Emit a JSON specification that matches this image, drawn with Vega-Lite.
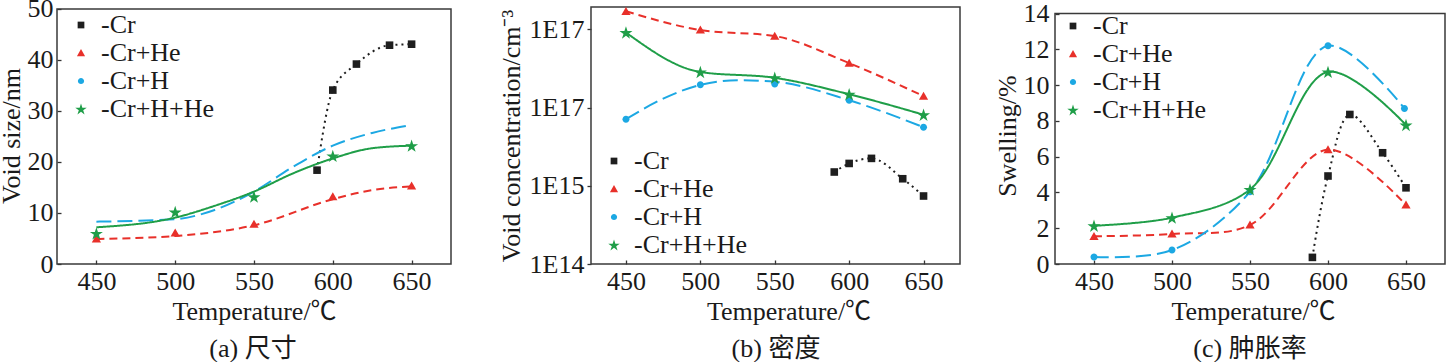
{
  "$schema": "https://vega.github.io/schema/vega-lite/v6.json",
  "background": "white",
  "padding": {"left": -2, "top": -5, "right": 0, "bottom": 0},
  "datasets": {
    "a_pts": [
      {"s": "-Cr", "t": 590, "v": 18.4}, {"s": "-Cr", "t": 600, "v": 34.1}, {"s": "-Cr", "t": 615, "v": 39.2}, {"s": "-Cr", "t": 636, "v": 42.9}, {"s": "-Cr", "t": 650, "v": 43.1},
      {"s": "-Cr+He", "t": 450, "v": 4.9}, {"s": "-Cr+He", "t": 500, "v": 6.1}, {"s": "-Cr+He", "t": 550, "v": 7.8}, {"s": "-Cr+He", "t": 600, "v": 13.2}, {"s": "-Cr+He", "t": 650, "v": 15.3},
      {"s": "-Cr+H+He", "t": 450, "v": 6.0}, {"s": "-Cr+H+He", "t": 500, "v": 10.2}, {"s": "-Cr+H+He", "t": 550, "v": 13.2}, {"s": "-Cr+H+He", "t": 600, "v": 21.2}, {"s": "-Cr+H+He", "t": 650, "v": 23.2}
    ],
    "a_crv": [
      {"s": "-Cr", "t": 590, "v": 18.4}, {"s": "-Cr", "t": 600, "v": 34.1}, {"s": "-Cr", "t": 615, "v": 39.2}, {"s": "-Cr", "t": 636, "v": 42.9}, {"s": "-Cr", "t": 650, "v": 43.1},
      {"s": "-Cr+He", "t": 450, "v": 4.9}, {"s": "-Cr+He", "t": 500, "v": 5.5}, {"s": "-Cr+He", "t": 550, "v": 7.6}, {"s": "-Cr+He", "t": 600, "v": 12.7}, {"s": "-Cr+He", "t": 625, "v": 14.5}, {"s": "-Cr+He", "t": 650, "v": 15.2},
      {"s": "-Cr+H", "t": 450, "v": 8.3}, {"s": "-Cr+H", "t": 500, "v": 8.8}, {"s": "-Cr+H", "t": 525, "v": 10.6}, {"s": "-Cr+H", "t": 550, "v": 14.2}, {"s": "-Cr+H", "t": 575, "v": 19.1}, {"s": "-Cr+H", "t": 600, "v": 23.2}, {"s": "-Cr+H", "t": 625, "v": 25.7}, {"s": "-Cr+H", "t": 647, "v": 27.1},
      {"s": "-Cr+H+He", "t": 450, "v": 7.2}, {"s": "-Cr+H+He", "t": 500, "v": 9.1}, {"s": "-Cr+H+He", "t": 525, "v": 11.4}, {"s": "-Cr+H+He", "t": 550, "v": 14.2}, {"s": "-Cr+H+He", "t": 575, "v": 17.8}, {"s": "-Cr+H+He", "t": 600, "v": 20.7}, {"s": "-Cr+H+He", "t": 625, "v": 22.7}, {"s": "-Cr+H+He", "t": 650, "v": 23.2}
    ],
    "b_pts": [
      {"s": "-Cr", "t": 590, "v": 1.5e15}, {"s": "-Cr", "t": 600, "v": 1.93e15}, {"s": "-Cr", "t": 615, "v": 2.24e15}, {"s": "-Cr", "t": 636, "v": 1.23e15}, {"s": "-Cr", "t": 650, "v": 7.4e14},
      {"s": "-Cr+He", "t": 450, "v": 1.7e17}, {"s": "-Cr+He", "t": 500, "v": 9.8e16}, {"s": "-Cr+He", "t": 550, "v": 8.2e16}, {"s": "-Cr+He", "t": 600, "v": 3.7e16}, {"s": "-Cr+He", "t": 650, "v": 1.4e16},
      {"s": "-Cr+H", "t": 450, "v": 7.1e15}, {"s": "-Cr+H", "t": 500, "v": 1.95e16}, {"s": "-Cr+H", "t": 550, "v": 2.0e16}, {"s": "-Cr+H", "t": 600, "v": 1.24e16}, {"s": "-Cr+H", "t": 650, "v": 5.6e15},
      {"s": "-Cr+H+He", "t": 450, "v": 9.1e16}, {"s": "-Cr+H+He", "t": 500, "v": 2.85e16}, {"s": "-Cr+H+He", "t": 550, "v": 2.4e16}, {"s": "-Cr+H+He", "t": 600, "v": 1.48e16}, {"s": "-Cr+H+He", "t": 650, "v": 8.1e15}
    ],
    "b_crv": [
      {"s": "-Cr", "t": 590, "v": 1.5e15}, {"s": "-Cr", "t": 600, "v": 1.93e15}, {"s": "-Cr", "t": 615, "v": 2.24e15}, {"s": "-Cr", "t": 636, "v": 1.23e15}, {"s": "-Cr", "t": 650, "v": 7.4e14},
      {"s": "-Cr+He", "t": 450, "v": 1.7e17}, {"s": "-Cr+He", "t": 500, "v": 9.8e16}, {"s": "-Cr+He", "t": 550, "v": 8.2e16}, {"s": "-Cr+He", "t": 600, "v": 3.7e16}, {"s": "-Cr+He", "t": 650, "v": 1.4e16},
      {"s": "-Cr+H", "t": 450, "v": 7.1e15}, {"s": "-Cr+H", "t": 475, "v": 1.3e16}, {"s": "-Cr+H", "t": 500, "v": 1.95e16}, {"s": "-Cr+H", "t": 525, "v": 2.24e16}, {"s": "-Cr+H", "t": 550, "v": 2.14e16}, {"s": "-Cr+H", "t": 600, "v": 1.24e16}, {"s": "-Cr+H", "t": 650, "v": 5.6e15},
      {"s": "-Cr+H+He", "t": 450, "v": 9.1e16}, {"s": "-Cr+H+He", "t": 500, "v": 2.85e16}, {"s": "-Cr+H+He", "t": 550, "v": 2.4e16}, {"s": "-Cr+H+He", "t": 600, "v": 1.48e16}, {"s": "-Cr+H+He", "t": 650, "v": 8.1e15}
    ],
    "c_pts": [
      {"s": "-Cr", "t": 590, "v": 0.37}, {"s": "-Cr", "t": 600, "v": 4.92}, {"s": "-Cr", "t": 614, "v": 8.36}, {"s": "-Cr", "t": 635, "v": 6.22}, {"s": "-Cr", "t": 650, "v": 4.26},
      {"s": "-Cr+He", "t": 450, "v": 1.55}, {"s": "-Cr+He", "t": 500, "v": 1.68}, {"s": "-Cr+He", "t": 550, "v": 2.18}, {"s": "-Cr+He", "t": 600, "v": 6.4}, {"s": "-Cr+He", "t": 650, "v": 3.3},
      {"s": "-Cr+H", "t": 450, "v": 0.39}, {"s": "-Cr+H", "t": 500, "v": 0.78}, {"s": "-Cr+H", "t": 550, "v": 4.04}, {"s": "-Cr+H", "t": 600, "v": 12.2}, {"s": "-Cr+H", "t": 649, "v": 8.7},
      {"s": "-Cr+H+He", "t": 450, "v": 2.14}, {"s": "-Cr+H+He", "t": 500, "v": 2.59}, {"s": "-Cr+H+He", "t": 550, "v": 4.17}, {"s": "-Cr+H+He", "t": 600, "v": 10.74}, {"s": "-Cr+H+He", "t": 650, "v": 7.77}
    ]
  },
  "config": {
    "view": {"stroke": null},
    "font": "Liberation Serif, Noto Sans CJK SC",
    "axis": {"grid": false, "domain": false, "labelFont": "Liberation Serif, Noto Sans CJK SC", "labelFontSize": 26, "labelColor": "#1a1a1a", "titleFont": "Liberation Serif, Noto Sans CJK SC", "titleFontSize": 26, "titleFontWeight": "normal", "titleColor": "#1a1a1a", "tickColor": "#333333", "tickWidth": 1.3, "labelFlush": false},
    "axisX": {"tickSize": -4, "labelPadding": 8, "titlePadding": 4, "labelAngle": 0},
    "legend": {"labelFont": "Liberation Serif, Noto Sans CJK SC", "labelFontSize": 26, "labelColor": "#1a1a1a", "rowPadding": 2, "padding": 0, "symbolSize": 50, "labelOffset": 7, "labelLimit": 400, "symbolStrokeWidth": 0},
    "title": {"font": "Liberation Serif, Noto Sans CJK SC", "fontSize": 26, "fontWeight": "normal", "color": "#1a1a1a", "orient": "bottom", "anchor": "middle", "frame": "group", "offset": 12}
  },
  "resolve": {"scale": {"color": "independent", "shape": "independent", "stroke": "independent", "strokeDash": "independent", "x": "independent", "y": "independent"}, "legend": {"color": "independent", "shape": "independent"}},
  "spacing": 95,
  "bounds": "flush",
  "hconcat": [
    {
      "width": 394,
      "height": 257,
      "title": {"text": "(a) 尺寸", "dx": -1},
      "layer": [
        {
          "data": {"values": [{}]},
          "mark": {"type": "rect", "filled": false, "stroke": "#3a3a3a", "strokeWidth": 1.5},
          "encoding": {
            "x": {"datum": 425, "type": "quantitative", "scale": {"domain": [425, 675], "nice": false, "zero": false}, "axis": {"values": [450, 500, 550, 600, 650], "title": "Temperature/℃"}},
            "x2": {"datum": 675},
            "y": {"datum": 0, "type": "quantitative", "scale": {"domain": [0, 50.39], "nice": false, "zero": false}, "axis": {"values": [0, 10, 20, 30, 40, 50], "title": "Void size/nm", "tickSize": -4, "labelPadding": 8, "titlePadding": 3}},
            "y2": {"datum": 50}
          }
        },
        {
          "data": {"name": "a_crv"},
          "mark": {"type": "line", "interpolate": "monotone", "strokeWidth": 2},
          "encoding": {
            "x": {"field": "t", "type": "quantitative", "scale": {"domain": [425, 675], "nice": false, "zero": false}, "axis": {"values": [450, 500, 550, 600, 650], "title": "Temperature/℃"}},
            "y": {"field": "v", "type": "quantitative", "scale": {"domain": [0, 50.39], "nice": false, "zero": false}, "axis": {"values": [0, 10, 20, 30, 40, 50], "title": "Void size/nm", "tickSize": -4, "labelPadding": 8, "titlePadding": 3}},
            "stroke": {"field": "s", "type": "nominal", "scale": {"domain": ["-Cr+H+He", "-Cr+H", "-Cr+He", "-Cr"], "range": ["#1f9e48", "#1ca8e3", "#e8302a", "#1e1e1e"]}, "legend": null},
            "strokeDash": {"field": "s", "type": "nominal", "scale": {"domain": ["-Cr+H+He", "-Cr+H", "-Cr+He", "-Cr"], "range": [[1, 0], [15, 6], [8, 5], [2, 4]]}, "legend": null}
          }
        },
        {
          "data": {"name": "a_pts"},
          "mark": {"type": "point", "filled": true, "opacity": 1, "size": 64},
          "encoding": {
            "x": {"field": "t", "type": "quantitative", "scale": {"domain": [425, 675], "nice": false, "zero": false}, "axis": {"values": [450, 500, 550, 600, 650], "title": "Temperature/℃"}},
            "y": {"field": "v", "type": "quantitative", "scale": {"domain": [0, 50.39], "nice": false, "zero": false}, "axis": {"values": [0, 10, 20, 30, 40, 50], "title": "Void size/nm", "tickSize": -4, "labelPadding": 8, "titlePadding": 3}},
            "color": {"field": "s", "type": "nominal", "scale": {"domain": ["-Cr", "-Cr+He", "-Cr+H", "-Cr+H+He"], "range": ["#1e1e1e", "#e8302a", "#1ca8e3", "#1f9e48"]}, "legend": {"orient": "none", "legendX": 11, "legendY": 5, "title": null}},
            "shape": {"field": "s", "type": "nominal", "scale": {"domain": ["-Cr", "-Cr+He", "-Cr+H", "-Cr+H+He"], "range": ["M-0.95,-0.95H0.95V0.95H-0.95Z", "M0,-1.1L1.15,0.9L-1.15,0.9Z", "M0,-0.875A0.875,0.875 0 1,1 0,0.875A0.875,0.875 0 1,1 0,-0.875Z", "M0,-1.55L0.384,-0.368L1.626,-0.368L0.621,0.362L1.005,1.543L0,0.813L-1.005,1.543L-0.621,0.362L-1.626,-0.368L-0.384,-0.368Z"]}, "legend": {"orient": "none", "legendX": 11, "legendY": 5, "title": null}}
          }
        }
      ]
    },
    {
      "width": 414,
      "height": 257,
      "title": {"text": "(b) 密度", "dx": 23},
      "layer": [
        {
          "data": {"values": [{}]},
          "mark": {"type": "rect", "filled": false, "stroke": "#3a3a3a", "strokeWidth": 1.5},
          "encoding": {
            "x": {"datum": 426.5, "type": "quantitative", "scale": {"domain": [396.26, 674.5], "nice": false, "zero": false}, "axis": {"values": [450, 500, 550, 600, 650], "title": "Temperature/℃", "titleX": 242.5}},
            "x2": {"datum": 674.5},
            "y": {"datum": 1e14, "type": "quantitative", "scale": {"type": "log", "domain": [1e14, 1.93e17], "nice": false}, "axis": {"offset": -45, "values": [1e14, 1e15, 1e16, 1e17], "labelExpr": "datum.value > 5e15 ? '1E17' : datum.value > 5e14 ? '1E15' : '1E14'", "title": "Void concentration/cm⁻³", "tickSize": 4, "labelPadding": 3, "titlePadding": 5}},
            "y2": {"datum": 1.93e17}
          }
        },
        {
          "data": {"name": "b_crv"},
          "mark": {"type": "line", "interpolate": "monotone", "strokeWidth": 2},
          "encoding": {
            "x": {"field": "t", "type": "quantitative", "scale": {"domain": [396.26, 674.5], "nice": false, "zero": false}, "axis": {"values": [450, 500, 550, 600, 650], "title": "Temperature/℃", "titleX": 242.5}},
            "y": {"field": "v", "type": "quantitative", "scale": {"type": "log", "domain": [1e14, 1.93e17], "nice": false}, "axis": {"offset": -45, "values": [1e14, 1e15, 1e16, 1e17], "labelExpr": "datum.value > 5e15 ? '1E17' : datum.value > 5e14 ? '1E15' : '1E14'", "title": "Void concentration/cm⁻³", "tickSize": 4, "labelPadding": 3, "titlePadding": 5}},
            "stroke": {"field": "s", "type": "nominal", "scale": {"domain": ["-Cr+H+He", "-Cr+H", "-Cr+He", "-Cr"], "range": ["#1f9e48", "#1ca8e3", "#e8302a", "#1e1e1e"]}, "legend": null},
            "strokeDash": {"field": "s", "type": "nominal", "scale": {"domain": ["-Cr+H+He", "-Cr+H", "-Cr+He", "-Cr"], "range": [[1, 0], [15, 6], [8, 5], [2, 4]]}, "legend": null}
          }
        },
        {
          "data": {"name": "b_pts"},
          "mark": {"type": "point", "filled": true, "opacity": 1, "size": 64},
          "encoding": {
            "x": {"field": "t", "type": "quantitative", "scale": {"domain": [396.26, 674.5], "nice": false, "zero": false}, "axis": {"values": [450, 500, 550, 600, 650], "title": "Temperature/℃", "titleX": 242.5}},
            "y": {"field": "v", "type": "quantitative", "scale": {"type": "log", "domain": [1e14, 1.93e17], "nice": false}, "axis": {"offset": -45, "values": [1e14, 1e15, 1e16, 1e17], "labelExpr": "datum.value > 5e15 ? '1E17' : datum.value > 5e14 ? '1E15' : '1E14'", "title": "Void concentration/cm⁻³", "tickSize": 4, "labelPadding": 3, "titlePadding": 5}},
            "color": {"field": "s", "type": "nominal", "scale": {"domain": ["-Cr", "-Cr+He", "-Cr+H", "-Cr+H+He"], "range": ["#1e1e1e", "#e8302a", "#1ca8e3", "#1f9e48"]}, "legend": {"orient": "none", "legendX": 55, "legendY": 141, "title": null}},
            "shape": {"field": "s", "type": "nominal", "scale": {"domain": ["-Cr", "-Cr+He", "-Cr+H", "-Cr+H+He"], "range": ["M-0.95,-0.95H0.95V0.95H-0.95Z", "M0,-1.1L1.15,0.9L-1.15,0.9Z", "M0,-0.875A0.875,0.875 0 1,1 0,0.875A0.875,0.875 0 1,1 0,-0.875Z", "M0,-1.55L0.384,-0.368L1.626,-0.368L0.621,0.362L1.005,1.543L0,0.813L-1.005,1.543L-0.621,0.362L-1.626,-0.368L-0.384,-0.368Z"]}, "legend": {"orient": "none", "legendX": 55, "legendY": 141, "title": null}}
          }
        }
      ]
    },
    {
      "width": 390,
      "height": 257,
      "title": {"text": "(c) 肿胀率", "dx": 0},
      "layer": [
        {
          "data": {"values": [{}]},
          "mark": {"type": "rect", "filled": false, "stroke": "#3a3a3a", "strokeWidth": 1.5},
          "encoding": {
            "x": {"datum": 425, "type": "quantitative", "scale": {"domain": [425, 675], "nice": false, "zero": false}, "axis": {"values": [450, 500, 550, 600, 650], "title": "Temperature/℃", "titleX": 198}},
            "x2": {"datum": 675},
            "y": {"datum": 0, "type": "quantitative", "scale": {"domain": [0, 14.37], "nice": false, "zero": false}, "axis": {"values": [0, 2, 4, 6, 8, 10, 12, 14], "title": "Swelling/%", "tickSize": -4, "labelPadding": 10, "titlePadding": 3}},
            "y2": {"datum": 14}
          }
        },
        {
          "data": {"name": "c_pts"},
          "mark": {"type": "line", "interpolate": "catmull-rom", "strokeWidth": 2},
          "encoding": {
            "x": {"field": "t", "type": "quantitative", "scale": {"domain": [425, 675], "nice": false, "zero": false}, "axis": {"values": [450, 500, 550, 600, 650], "title": "Temperature/℃", "titleX": 198}},
            "y": {"field": "v", "type": "quantitative", "scale": {"domain": [0, 14.37], "nice": false, "zero": false}, "axis": {"values": [0, 2, 4, 6, 8, 10, 12, 14], "title": "Swelling/%", "tickSize": -4, "labelPadding": 10, "titlePadding": 3}},
            "stroke": {"field": "s", "type": "nominal", "scale": {"domain": ["-Cr+H+He", "-Cr+H", "-Cr+He", "-Cr"], "range": ["#1f9e48", "#1ca8e3", "#e8302a", "#1e1e1e"]}, "legend": null},
            "strokeDash": {"field": "s", "type": "nominal", "scale": {"domain": ["-Cr+H+He", "-Cr+H", "-Cr+He", "-Cr"], "range": [[1, 0], [15, 6], [8, 5], [2, 4]]}, "legend": null}
          }
        },
        {
          "data": {"name": "c_pts"},
          "mark": {"type": "point", "filled": true, "opacity": 1, "size": 64},
          "encoding": {
            "x": {"field": "t", "type": "quantitative", "scale": {"domain": [425, 675], "nice": false, "zero": false}, "axis": {"values": [450, 500, 550, 600, 650], "title": "Temperature/℃", "titleX": 198}},
            "y": {"field": "v", "type": "quantitative", "scale": {"domain": [0, 14.37], "nice": false, "zero": false}, "axis": {"values": [0, 2, 4, 6, 8, 10, 12, 14], "title": "Swelling/%", "tickSize": -4, "labelPadding": 10, "titlePadding": 3}},
            "color": {"field": "s", "type": "nominal", "scale": {"domain": ["-Cr", "-Cr+He", "-Cr+H", "-Cr+H+He"], "range": ["#1e1e1e", "#e8302a", "#1ca8e3", "#1f9e48"]}, "legend": {"orient": "none", "legendX": 5, "legendY": 6, "title": null}},
            "shape": {"field": "s", "type": "nominal", "scale": {"domain": ["-Cr", "-Cr+He", "-Cr+H", "-Cr+H+He"], "range": ["M-0.95,-0.95H0.95V0.95H-0.95Z", "M0,-1.1L1.15,0.9L-1.15,0.9Z", "M0,-0.875A0.875,0.875 0 1,1 0,0.875A0.875,0.875 0 1,1 0,-0.875Z", "M0,-1.55L0.384,-0.368L1.626,-0.368L0.621,0.362L1.005,1.543L0,0.813L-1.005,1.543L-0.621,0.362L-1.626,-0.368L-0.384,-0.368Z"]}, "legend": {"orient": "none", "legendX": 5, "legendY": 6, "title": null}}
          }
        }
      ]
    }
  ]
}
